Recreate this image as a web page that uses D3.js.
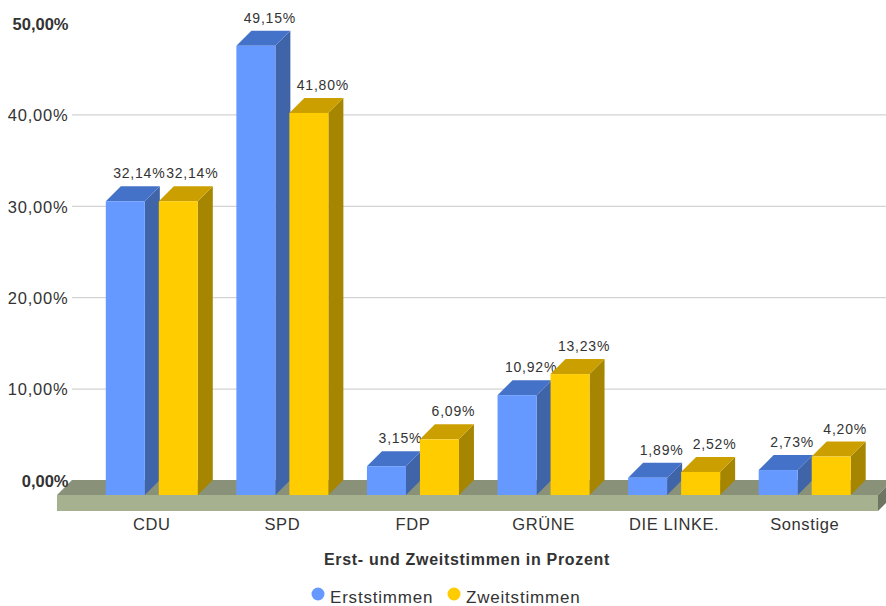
<!DOCTYPE html>
<html>
<head>
<meta charset="utf-8">
<style>
html, body { margin: 0; padding: 0; background: #fff; }
svg { display: block; font-family: "Liberation Sans", Arial, sans-serif; }
.axis .domain { display: none; }
</style>
</head>
<body>
<svg width="886" height="606"></svg>
<script src="https://cdn.jsdelivr.net/npm/d3@7/dist/d3.min.js"></script>
<script>

var categories = ["CDU", "SPD", "FDP", "GRÜNE", "DIE LINKE.", "Sonstige"];
var seriesNames = ["Erststimmen", "Zweitstimmen"];
var erststimmen = [32.14, 49.15, 3.15, 10.92, 1.89, 2.73];
var zweitstimmen = [32.14, 41.80, 6.09, 13.23, 2.52, 4.20];
var yTicks = [0, 10, 20, 30, 40, 50];

var faces = {
  Erststimmen: {front: "#6699ff", top: "#4472c8", side: "#3f64a8"},
  Zweitstimmen: {front: "#ffcc00", top: "#cc9f00", side: "#a68600"}
};

var svg = d3.select("svg"),
    depth = 15,
    floorLeft = 57, floorRight = 878, floorHeight = 16;

function comma(v) { return d3.format(".2f")(v).replace(".", ",") + "%"; }

var x0 = d3.scaleBand().domain(categories).range([86.5, 870]);
var groupWidth = 92;
var x1 = d3.scaleBand().domain(seriesNames)
    .range([(x0.bandwidth() - groupWidth) / 2, (x0.bandwidth() + groupWidth) / 2])
    .paddingInner(0.264);
var y = d3.scaleLinear().domain([0, 50]).range([480, 23]);

// back wall grid + y axis
var axis = svg.append("g")
    .attr("class", "axis")
    .attr("transform", "translate(72,0)")
    .call(d3.axisLeft(y).tickValues(yTicks).tickFormat(comma).tickSize(0).tickPadding(3.5));
axis.selectAll("text")
    .attr("y", 1)
    .attr("font-size", 16.5)
    .attr("fill", "#333")
    .attr("font-family", "Liberation Sans")
    .attr("letter-spacing", function(d) { return d === 0 || d === 50 ? 0 : 0.8; })
    .attr("font-weight", function(d) { return d === 0 || d === 50 ? "bold" : "normal"; });
axis.selectAll(".tick")
    .filter(function(d) { return d > 0 && d < 50; })
    .append("line")
    .attr("x2", 814)
    .attr("stroke", "#c8c8c8");

// floor
var floorY = y(0) + depth;
svg.append("polygon")
    .attr("points", [[floorLeft, floorY], [floorLeft + depth, y(0)], [floorRight + depth, y(0)], [floorRight, floorY]].join(" "))
    .attr("fill", "#8a9179");
svg.append("polygon")
    .attr("points", [[floorRight, floorY], [floorRight + depth, y(0)], [floorRight + depth, y(0) + floorHeight], [floorRight, floorY + floorHeight]].join(" "))
    .attr("fill", "#6e7563");
svg.append("rect")
    .attr("x", floorLeft).attr("y", floorY)
    .attr("width", floorRight - floorLeft).attr("height", floorHeight)
    .attr("fill", "#a6b18f");
axis.raise();

var rows = categories.map(function(c, i) {
  return {cat: c, vals: [
    {key: "Erststimmen", value: erststimmen[i]},
    {key: "Zweitstimmen", value: zweitstimmen[i]}
  ]};
});

var bars = svg.append("g").selectAll("g")
    .data(rows).enter().append("g")
    .attr("transform", function(d) { return "translate(" + x0(d.cat) + ",0)"; })
  .selectAll("g")
    .data(function(d) { return d.vals; }).enter().append("g")
    .attr("transform", function(d) { return "translate(" + x1(d.key) + ",0)"; });

var w = x1.bandwidth();

bars.append("polygon")
    .attr("points", function(d) {
      var t = y(d.value) + depth, b = floorY;
      return [[w, t], [w + depth, t - depth], [w + depth, b - depth], [w, b]].join(" ");
    })
    .attr("fill", function(d) { return faces[d.key].side; });
bars.append("polygon")
    .attr("points", function(d) {
      var t = y(d.value) + depth;
      return [[0, t], [depth, t - depth], [w + depth, t - depth], [w, t]].join(" ");
    })
    .attr("fill", function(d) { return faces[d.key].top; });
bars.append("rect")
    .attr("y", function(d) { return y(d.value) + depth; })
    .attr("width", w)
    .attr("height", function(d) { return y(0) - y(d.value); })
    .attr("fill", function(d) { return faces[d.key].front; });
bars.append("text")
    .attr("x", 33.5)
    .attr("y", function(d) { return y(d.value) - 8; })
    .attr("text-anchor", "middle")
    .attr("font-size", 14)
    .attr("letter-spacing", 0.8)
    .attr("fill", "#333")
    .text(function(d) { return comma(d.value); });

// category labels
svg.append("g").selectAll("text")
    .data(categories).enter().append("text")
    .attr("x", function(d) { return x0(d) + x0.bandwidth() / 2; })
    .attr("y", 530)
    .attr("text-anchor", "middle")
    .attr("font-size", 16.5)
    .attr("letter-spacing", 0.6)
    .attr("fill", "#333")
    .text(function(d) { return d; });

svg.append("text")
    .attr("x", 467).attr("y", 565)
    .attr("text-anchor", "middle")
    .attr("font-size", 16)
    .attr("font-weight", "bold")
    .attr("letter-spacing", 0.7)
    .attr("fill", "#333")
    .text("Erst- und Zweitstimmen in Prozent");

// legend
var legend = svg.append("g").selectAll("g")
    .data(seriesNames).enter().append("g")
    .attr("transform", function(d, i) { return "translate(" + [318, 454][i] + ",594)"; });
legend.append("circle")
    .attr("r", 6.5)
    .attr("fill", function(d) { return faces[d].front; });
legend.append("text")
    .attr("x", 12).attr("y", 8.5)
    .attr("font-size", 17)
    .attr("letter-spacing", 0.8)
    .attr("fill", "#333")
    .text(function(d) { return d; });

</script>
</body>
</html>
